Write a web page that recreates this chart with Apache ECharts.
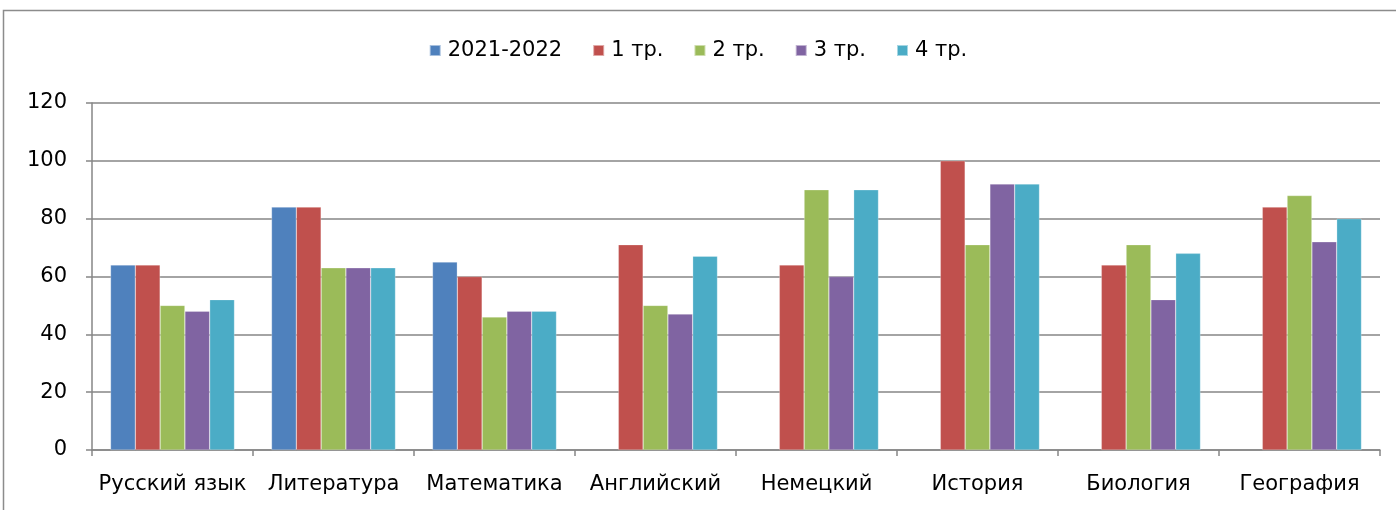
<!DOCTYPE html>
<html>
<head>
<meta charset="utf-8">
<script src="https://cdn.jsdelivr.net/npm/echarts@6/dist/echarts.min.js"></script>
<style>html,body{margin:0;padding:0;background:#fff}#c{width:1396px;height:510px}</style>
</head>
<body>
<div id="c"></div>
<script>
const categories = ['Русский язык','Литература','Математика','Английский','Немецкий','История','Биология','География'];
const seriesNames = ['2021-2022','1 тр.','2 тр.','3 тр.','4 тр.'];
const s2021 = [64, 84, 65, null, null, null, null, null];
const s1 = [64, 84, 60, 71, 64, 100, 64, 84];
const s2 = [50, 63, 46, 50, 90, 71, 71, 88];
const s3 = [48, 63, 48, 47, 60, 92, 52, 72];
const s4 = [52, 63, 48, 67, 90, 92, 68, 80];
const colors = ['#4F81BD','#C0504D','#9BBB59','#8064A2','#4BACC6'];
const allData = [s2021, s1, s2, s3, s4];

const font = 'DejaVu Sans';
const chart = echarts.init(document.getElementById('c'), null, {renderer:'canvas'});
chart.setOption({
  animation:false,
  color: colors,
  textStyle:{fontFamily:font},
  graphic:[{type:'rect', shape:{x:3.5,y:10.5,width:1420,height:520}, style:{fill:null, stroke:'#8c8c8c', lineWidth:1.5}, z:-1}],
  legend:{
    top:35, left:'center', itemWidth:11, itemHeight:11, itemGap:30,
    icon:'rect',
    textStyle:{fontFamily:font, fontSize:21, color:'#000', padding:[0,0,0,2]},
    data: seriesNames
  },
  grid:{left:92, right:16, top:103, bottom:60, containLabel:false},
  xAxis:{
    type:'category', data:categories,
    axisLine:{lineStyle:{color:'#868686', width:1.5}},
    axisTick:{show:true, length:6, lineStyle:{color:'#868686', width:1.5}},
    axisLabel:{color:'#000', fontSize:21, fontFamily:font, margin:24, interval:0}
  },
  yAxis:{
    type:'value', min:0, max:120, interval:20,
    axisLine:{show:true, lineStyle:{color:'#868686', width:1.5}},
    axisTick:{show:true, length:6, lineStyle:{color:'#868686', width:1.5}},
    splitLine:{lineStyle:{color:'#868686', width:1.5}},
    axisLabel:{color:'#000', fontSize:21, fontFamily:font, margin:25}
  },
  series: seriesNames.map((n,i)=>({
    name:n, type:'bar', data:allData[i],
    barGap:'0%', barCategoryGap:'23%',
    itemStyle:{color:colors[i], borderColor:'rgba(255,255,255,0.5)', borderWidth:0.5}
  }))
});
</script>
</body>
</html>
